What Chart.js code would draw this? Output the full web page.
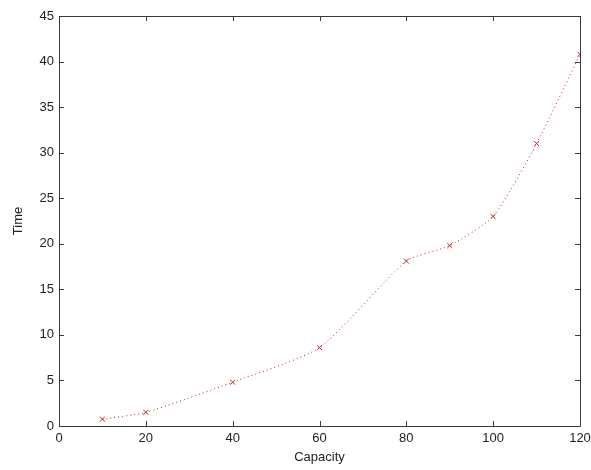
<!DOCTYPE html>
<html>
<head>
<meta charset="utf-8">
<script src="https://cdn.jsdelivr.net/npm/chart.js@4/dist/chart.umd.min.js"></script>
<style>
  html, body { margin: 0; padding: 0; background: #fff; }
  #wrap { width: 591px; height: 470px; }
</style>
</head>
<body>
<div id="wrap"><canvas id="capacityChart" width="591" height="470"></canvas></div>
<script>
// values
const capacity = [10, 20, 40, 60, 80, 90, 100, 110, 120];
const time = [0.75, 1.5, 4.8, 8.6, 18.1, 19.8, 23.0, 31.0, 40.8];
const xTicks = [0, 20, 40, 60, 80, 100, 120];
const yTicks = [0, 5, 10, 15, 20, 25, 30, 35, 40, 45];

const axisColor = "#3a3a3a";
const textColor = "#222222";
const red = "rgb(195, 35, 35)";

// MATLAB style box with inward ticks on all four sides
const boxTicks = {
  id: "boxTicks",
  afterDraw(chart) {
    const { ctx, chartArea: a, scales } = chart;
    const len = 5;
    ctx.save();
    ctx.strokeStyle = axisColor;
    ctx.lineWidth = 1;
    ctx.beginPath();
    ctx.rect(a.left + 0.5, a.top + 0.5, a.right - a.left, a.bottom - a.top);
    xTicks.forEach(v => {
      const px = Math.round(scales.x.getPixelForValue(v)) + 0.5;
      ctx.moveTo(px, a.bottom); ctx.lineTo(px, a.bottom - len);
      ctx.moveTo(px, a.top); ctx.lineTo(px, a.top + len);
    });
    yTicks.forEach(v => {
      const py = Math.round(scales.y.getPixelForValue(v)) + 0.5;
      ctx.moveTo(a.left, py); ctx.lineTo(a.left + len, py);
      ctx.moveTo(a.right, py); ctx.lineTo(a.right - len, py);
    });
    ctx.stroke();
    ctx.restore();
  }
};

const font = { family: "'Liberation Sans', Arial, sans-serif", size: 13 };

new Chart(document.getElementById("capacityChart"), {
  type: "line",
  data: {
    datasets: [{
      data: capacity.map((c, i) => ({ x: c, y: time[i] })),
      borderColor: red,
      backgroundColor: red,
      borderWidth: 1,
      borderDash: [1, 3],
      tension: 0.2,
      pointStyle: "crossRot",
      pointRadius: 3.5,
      pointBorderWidth: 1,
      pointBorderColor: red,
      fill: false
    }]
  },
  options: {
    responsive: false,
    animation: false,
    devicePixelRatio: 1,
    layout: { padding: { left: 0, right: 11, top: 16, bottom: 0 } },
    plugins: { legend: { display: false }, tooltip: { enabled: false } },
    scales: {
      x: {
        type: "linear",
        min: 0, max: 120,
        afterBuildTicks: s => { s.ticks = xTicks.map(v => ({ value: v })); },
        afterFit: s => { s.height = 44; s.paddingLeft = 0; s.paddingRight = 0; },
        grid: { display: false, drawTicks: false },
        border: { display: false },
        ticks: { color: textColor, font: font, padding: 5, maxRotation: 0 },
        title: { display: true, text: "Capacity", color: textColor, font: font, padding: { top: 0, bottom: 5 } }
      },
      y: {
        type: "linear",
        min: 0, max: 45,
        afterBuildTicks: s => { s.ticks = yTicks.map(v => ({ value: v })); },
        afterFit: s => { s.width = 59; s.paddingTop = 0; s.paddingBottom = 0; },
        grid: { display: false, drawTicks: false },
        border: { display: false },
        ticks: { color: textColor, font: font, padding: 5 },
        title: { display: true, text: "Time", color: textColor, font: font, padding: { top: 11, bottom: 0 } }
      }
    }
  },
  plugins: [boxTicks]
});
</script>
</body>
</html>
